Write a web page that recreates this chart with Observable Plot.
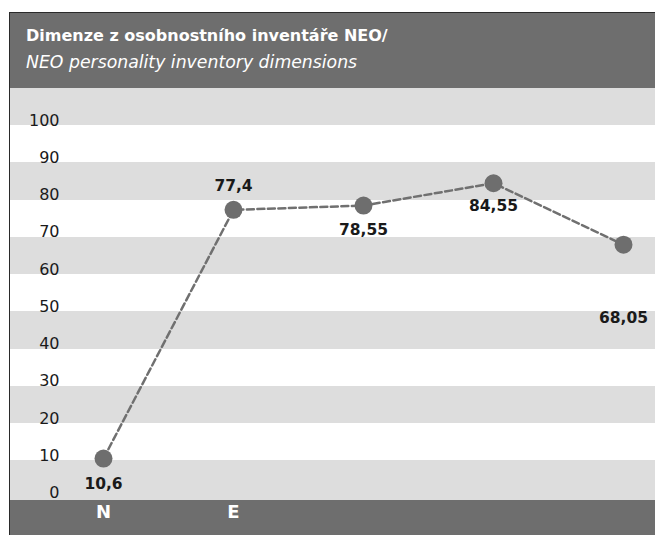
<!DOCTYPE html>
<html>
<head>
<meta charset="utf-8">
<script src="https://cdn.jsdelivr.net/npm/d3@7"></script>
<script src="https://cdn.jsdelivr.net/npm/@observablehq/plot@0.6"></script>
<style>
  html, body { margin: 0; padding: 0; background: #fff; }
  body { width: 655px; height: 535px; overflow: hidden; position: relative; font-family: "DejaVu Sans", sans-serif; }
  #box { position: absolute; left: 9px; top: 12px; width: 646px; border-left: 1px solid #2a2a2a; border-top: 1px solid #2a2a2a; }
  #title { height: 75px; background: #6e6e6e; color: #fff; box-sizing: border-box; padding: 13px 0 0 16px; }
  #title .t1 { font-weight: bold; font-size: 16px; line-height: 19px; }
  #title .t2 { font-style: italic; font-size: 17.3px; line-height: 20px; margin-top: 7px; }
  #chart svg { display: block; }
</style>
</head>
<body>
<div id="box">
  <div id="title">
    <div class="t1">Dimenze z osobnostního inventáře NEO/</div>
    <div class="t2">NEO personality inventory dimensions</div>
  </div>
  <div id="chart"></div>
</div>
<script>
// Data
const categories = ["N", "E", "O", "A", "C"];
const values = [10.6, 77.4, 78.55, 84.55, 68.05];
const valueLabels = ["10,6", "77,4", "78,55", "84,55", "68,05"];
const xTickLabels = ["N", "E", "", "", ""];
const yTicks = [0, 10, 20, 30, 40, 50, 60, 70, 80, 90, 100];
const bandStarts = [0, 10, 20, 30, 40, 50, 60, 70, 80, 90, 100];

const data = categories.map((c, i) => ({cat: c, value: values[i], label: valueLabels[i]}));
const bands = bandStarts.map((s, i) => ({lo: s, hi: s + 10, gray: i % 2 === 0}));

// label placement (layout only): vertical offset of each value label from its point
const labelDy = [30, -19, 29, 28, 78];

const tickLabelMap = new Map(categories.map((c, i) => [c, xTickLabels[i]]));

const W = 645, H = 447;
const chart = Plot.plot({
  width: W,
  height: H,
  marginLeft: 0,
  marginRight: 0,
  marginTop: 0,
  marginBottom: 37.5,
  style: { background: "#6e6e6e", fontFamily: "DejaVu Sans, sans-serif" },
  x: { type: "point", domain: categories, padding: 0.479, align: 0.743 },
  y: { domain: [0, 110], axis: null },
  marks: [
    Plot.rect([{lo: 0, hi: 110}], { y1: "lo", y2: "hi", fill: "#dddddd", insetBottom: -2, shapeRendering: "crispEdges" }),
    Plot.rect(bands.filter(b => !b.gray), { y1: "lo", y2: "hi", fill: "#ffffff", shapeRendering: "crispEdges" }),
    Plot.axisX({ tickSize: 0, tickPadding: 7, tickFormat: d => tickLabelMap.get(d), fill: "#ffffff", fontSize: 18, fontWeight: "bold", label: null }),
    Plot.text(yTicks, { y: d => d, text: d => String(d), frameAnchor: "left", dx: 49, textAnchor: "end", lineAnchor: "bottom", fontSize: 16, fill: "#1a1a1a" }),
    Plot.line(data, { x: "cat", y: "value", stroke: "#707070", strokeWidth: 2.5, strokeDasharray: "7,3.5" }),
    Plot.dot(data, { x: "cat", y: "value", r: 9, fill: "#6e6e6e", stroke: "none" }),
    ...data.map((d, i) => Plot.text([d], { x: "cat", y: "value", text: "label", dy: labelDy[i], lineAnchor: "bottom", fontSize: 15.5, fontWeight: "bold", fill: "#1a1a1a" }))
  ]
});
document.getElementById("chart").appendChild(chart);
</script>
</body>
</html>
